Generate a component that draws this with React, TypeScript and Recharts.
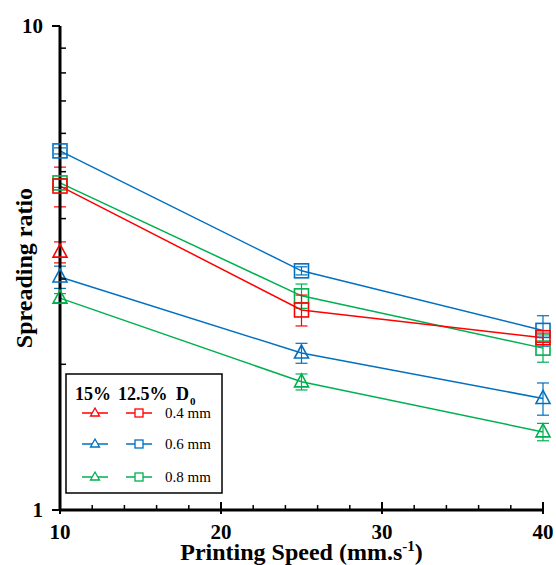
import React from "react";
import {
  LineChart,
  Line,
  XAxis,
  YAxis,
  ErrorBar,
} from "recharts";

// printing speed (mm/s)
const speeds = [10, 25, 40];

// 12.5% (squares)
const sq04 = [4.67, 2.59, 2.27];
const sq04Err = [0.44, 0.19, 0.05];
const sq06 = [5.52, 3.12, 2.35];
const sq06Err = [0.08, 0.06, 0.17];
const sq08 = [4.74, 2.77, 2.16];
const sq08Err = [0.1, 0.16, 0.14];

// 15% (triangles)
const tri04 = [3.41, null, null];
const tri04Err = [0.17, null, null];
const tri06 = [3.03, 2.11, 1.7];
const tri06Err = [0.16, 0.1, 0.13];
const tri08 = [2.74, 1.84, 1.45];
const tri08Err = [0.06, 0.07, 0.06];

const xTicks = [10, 12, 14, 16, 18, 20, 22, 24, 26, 28, 30, 32, 34, 36, 38, 40];
const yTicks = [1, 2, 3, 4, 5, 6, 7, 8, 9, 10];
const xMajor = [10, 20, 30, 40];
const yMajor = [1, 10];

const RED = "#FF0000";
const BLUE = "#0070C0";
const GREEN = "#00B050";
const FONT = '"Liberation Serif", "Times New Roman", serif';

const data = speeds.map((s, i) => ({
  speed: s,
  sq04: sq04[i],
  sq04Err: sq04Err[i],
  sq06: sq06[i],
  sq06Err: sq06Err[i],
  sq08: sq08[i],
  sq08Err: sq08Err[i],
  tri04: tri04[i],
  tri04Err: tri04Err[i],
  tri06: tri06[i],
  tri06Err: tri06Err[i],
  tri08: tri08[i],
  tri08Err: tri08Err[i],
}));

const squareDot = (color: string) => (p: any) => {
  if (p.cy == null || p.value == null) return <g key={p.index} />;
  return (
    <rect
      key={p.index}
      x={p.cx - 7}
      y={p.cy - 7}
      width={14}
      height={14}
      fill="none"
      stroke={color}
      strokeWidth={1.6}
    />
  );
};

const triangleDot = (color: string) => (p: any) => {
  if (p.cy == null || p.value == null) return <g key={p.index} />;
  const { cx, cy } = p;
  return (
    <path
      key={p.index}
      d={`M${cx},${cy - 8} L${cx + 7},${cy + 5} L${cx - 7},${cy + 5} Z`}
      fill="none"
      stroke={color}
      strokeWidth={1.6}
    />
  );
};

const XTick = (props: any) => {
  const { x, y, payload } = props;
  const v = payload.value;
  if (xMajor.includes(v)) {
    return (
      <g>
        <line x1={x} x2={x} y1={y - 8} y2={y + 4} stroke="#000" strokeWidth={2} />
        <text
          x={x}
          y={y + 29}
          textAnchor="middle"
          fontFamily={FONT}
          fontWeight="bold"
          fontSize={21}
          fill="#000"
        >
          {v}
        </text>
      </g>
    );
  }
  return <line x1={x} x2={x} y1={y - 5} y2={y} stroke="#000" strokeWidth={1.5} />;
};

const YTick = (props: any) => {
  const { x, y, payload } = props;
  const v = payload.value;
  if (yMajor.includes(v)) {
    return (
      <g>
        <line x1={x - 8} x2={x} y1={y} y2={y} stroke="#000" strokeWidth={2} />
        <text
          x={x - 17}
          y={y + 7}
          textAnchor="end"
          fontFamily={FONT}
          fontWeight="bold"
          fontSize={21}
          fill="#000"
        >
          {v}
        </text>
      </g>
    );
  }
  return <line x1={x} x2={x + 6} y1={y} y2={y} stroke="#000" strokeWidth={1.5} />;
};

const XLabel = (props: any) => {
  const { viewBox } = props;
  return (
    <text
      x={viewBox.x + viewBox.width / 2}
      y={viewBox.y + viewBox.height - 5}
      textAnchor="middle"
      fontFamily={FONT}
      fontWeight="bold"
      fontSize={24}
      fill="#000"
    >
      Printing Speed (mm.s
      <tspan dy={-9} fontSize={15}>
        -1
      </tspan>
      <tspan dy={9}>)</tspan>
    </text>
  );
};

const YLabel = (props: any) => {
  const { viewBox } = props;
  const cy = viewBox.y + viewBox.height / 2;
  return (
    <text
      x={24}
      y={cy}
      transform={`rotate(-90 24 ${cy})`}
      textAnchor="middle"
      dominantBaseline="central"
      fontFamily={FONT}
      fontWeight="bold"
      fontSize={24}
      fill="#000"
    >
      Spreading ratio
    </text>
  );
};

const legendRows = [
  { color: RED, label: "0.4 mm" },
  { color: BLUE, label: "0.6 mm" },
  { color: GREEN, label: "0.8 mm" },
];
const rowY = [413, 444, 477];

const LegendBox = () => (
  <svg
    width={556}
    height={565}
    style={{ position: "absolute", left: 0, top: 0, pointerEvents: "none" }}
  >
    <rect x={66} y={374} width={156} height={119} fill="#fff" stroke="#000" strokeWidth={1.5} />
    <text x={75} y={400} fontFamily={FONT} fontWeight="bold" fontSize={18} fill="#000">
      15%
    </text>
    <text x={118} y={400} fontFamily={FONT} fontWeight="bold" fontSize={18} fill="#000">
      12.5%
    </text>
    <text x={176} y={400} fontFamily={FONT} fontWeight="bold" fontSize={18} fill="#000">
      D
    </text>
    <text x={190} y={405} fontFamily={FONT} fontWeight="bold" fontSize={11} fill="#000">
      0
    </text>
    {legendRows.map((r, i) => {
      const y = rowY[i];
      return (
        <g key={r.label}>
          <line x1={82} x2={108} y1={y} y2={y} stroke={r.color} strokeWidth={1.5} />
          <path
            d={`M95,${y - 5} L99.5,${y + 3} L90.5,${y + 3} Z`}
            fill="#fff"
            stroke={r.color}
            strokeWidth={1.3}
          />
          <line x1={126} x2={152} y1={y} y2={y} stroke={r.color} strokeWidth={1.5} />
          <rect x={135} y={y - 4} width={8} height={8} fill="#fff" stroke={r.color} strokeWidth={1.3} />
          <text x={165} y={y + 5} fontFamily={FONT} fontSize={15} fill="#000">
            {r.label}
          </text>
        </g>
      );
    })}
  </svg>
);

export default function App() {
  return (
    <div
      style={{
        position: "absolute",
        left: 0,
        top: 0,
        width: 556,
        height: 565,
        background: "#fff",
      }}
    >
      <LineChart
        width={556}
        height={565}
        data={data}
        margin={{ top: 26, right: 13, bottom: 0, left: 10 }}
      >
        <XAxis
          dataKey="speed"
          type="number"
          domain={[10, 40]}
          ticks={xTicks}
          interval={0}
          tick={<XTick />}
          tickLine={false}
          tickSize={0}
          tickMargin={0}
          height={55}
          axisLine={{ stroke: "#000", strokeWidth: 3 }}
          label={<XLabel />}
        />
        <XAxis
          xAxisId="top"
          orientation="top"
          dataKey="speed"
          type="number"
          domain={[10, 40]}
          height={0}
          tick={false}
          tickLine={false}
          axisLine={{ stroke: "#000", strokeWidth: 2 }}
        />
        <YAxis
          type="number"
          scale="log"
          domain={[1, 10]}
          allowDataOverflow
          ticks={yTicks}
          interval={0}
          tick={<YTick />}
          tickLine={false}
          tickSize={0}
          tickMargin={0}
          width={50}
          axisLine={{ stroke: "#000", strokeWidth: 3 }}
          label={<YLabel />}
        />
        <YAxis
          yAxisId="right"
          orientation="right"
          type="number"
          scale="log"
          domain={[1, 10]}
          allowDataOverflow
          width={0}
          tick={false}
          tickLine={false}
          axisLine={{ stroke: "#000", strokeWidth: 2 }}
        />
        <Line dataKey="sq06" stroke={BLUE} strokeWidth={1.5} dot={squareDot(BLUE)} isAnimationActive={false}>
          <ErrorBar dataKey="sq06Err" width={6} stroke={BLUE} strokeWidth={1.2} />
        </Line>
        <Line dataKey="sq08" stroke={GREEN} strokeWidth={1.5} dot={squareDot(GREEN)} isAnimationActive={false}>
          <ErrorBar dataKey="sq08Err" width={6} stroke={GREEN} strokeWidth={1.2} />
        </Line>
        <Line dataKey="sq04" stroke={RED} strokeWidth={1.5} dot={squareDot(RED)} isAnimationActive={false}>
          <ErrorBar dataKey="sq04Err" width={6} stroke={RED} strokeWidth={1.2} />
        </Line>
        <Line dataKey="tri04" stroke={RED} strokeWidth={1.5} dot={triangleDot(RED)} isAnimationActive={false}>
          <ErrorBar dataKey="tri04Err" width={6} stroke={RED} strokeWidth={1.2} />
        </Line>
        <Line dataKey="tri06" stroke={BLUE} strokeWidth={1.5} dot={triangleDot(BLUE)} isAnimationActive={false}>
          <ErrorBar dataKey="tri06Err" width={6} stroke={BLUE} strokeWidth={1.2} />
        </Line>
        <Line dataKey="tri08" stroke={GREEN} strokeWidth={1.5} dot={triangleDot(GREEN)} isAnimationActive={false}>
          <ErrorBar dataKey="tri08Err" width={6} stroke={GREEN} strokeWidth={1.2} />
        </Line>
      </LineChart>
      <LegendBox />
    </div>
  );
}
